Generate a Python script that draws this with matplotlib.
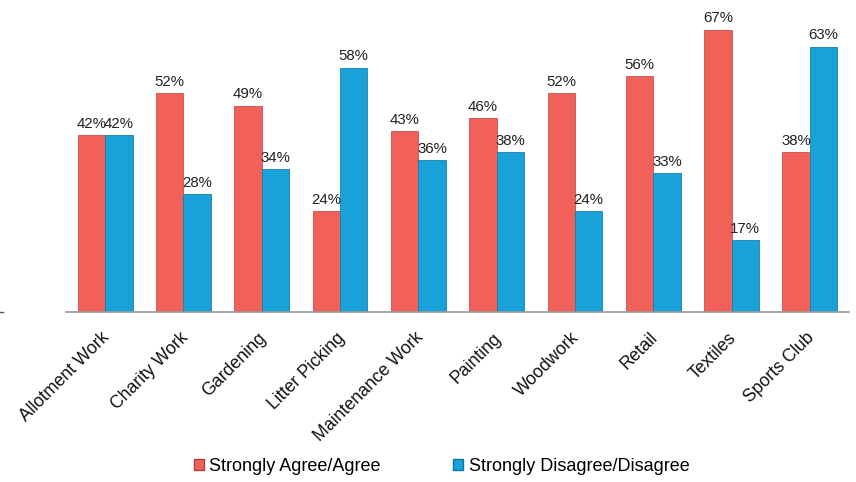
import numpy as np
import matplotlib
matplotlib.use('Agg')
import matplotlib.pyplot as plt
import matplotlib.transforms as mtransforms
from matplotlib.patches import Patch

plt.rcParams['font.family'] = ['Liberation Sans', 'DejaVu Sans']

# ------------------------
# data
# ------------------------
categories = ['Allotment Work', 'Charity Work', 'Gardening', 'Litter Picking',
              'Maintenance Work', 'Painting', 'Woodwork', 'Retail', 'Textiles',
              'Sports Club']
agree = [42, 52, 49, 24, 43, 46, 52, 56, 67, 38]
disagree = [42, 28, 34, 58, 36, 38, 24, 33, 17, 63]
series_names = ['Strongly Agree/Agree', 'Strongly Disagree/Disagree']

red = '#F2605A'
blue = '#18A2D9'

fig = plt.figure(figsize=(8.56, 4.82), dpi=100)
ax = fig.add_axes([0.0771, 0.3527, 0.9147, 0.612])

x = np.arange(len(categories))
w = 0.35
b1 = ax.bar(x - w/2, agree, w, color=red, edgecolor='#C8504A', linewidth=0.6)
b2 = ax.bar(x + w/2, disagree, w, color=blue, edgecolor='#1880A8', linewidth=0.6)

for bars, vals in ((b1, agree), (b2, disagree)):
    for r, v in zip(bars, vals):
        ax.text(r.get_x() + r.get_width()/2, v + 1.0, '%d%%' % v,
                ha='center', va='bottom', fontsize=10.8, color='#222222')

ax.set_xlim(-0.5, len(categories) - 0.5)
ax.set_ylim(0, 70)
for s in ['top', 'right', 'left']:
    ax.spines[s].set_visible(False)
ax.spines['bottom'].set_color('#999999')
ax.spines['bottom'].set_linewidth(1.2)
ax.set_yticks([])
ax.set_xticks(x)
labels = ax.set_xticklabels(categories, rotation=45, ha='right',
                            rotation_mode='anchor', fontsize=12.7,
                            color='#111111')
ax.tick_params(axis='x', length=0, pad=6)
shift = mtransforms.ScaledTranslation(-4/100, -9/100, fig.dpi_scale_trans)
for lab in labels:
    lab.set_transform(lab.get_transform() + shift)

# small stray tick at the far left
fig.add_artist(plt.Line2D([0.0, 0.004], [0.3527, 0.3527], color='#555555', lw=1))

handles = [Patch(facecolor=red, edgecolor='#B04040'),
           Patch(facecolor=blue, edgecolor='#1070A0')]
fig.legend(handles, series_names, loc='center', bbox_to_anchor=(0.516, 0.033),
           ncol=2, frameon=False, fontsize=13, handlelength=0.55,
           handleheight=0.55, handletextpad=0.3, columnspacing=4.0)

fig.savefig('out.png', dpi=100)
